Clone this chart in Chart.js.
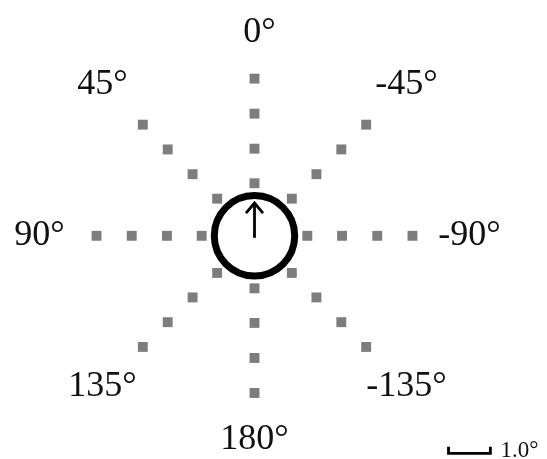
<!DOCTYPE html>
<html><head><meta charset="utf-8">
<script src="https://cdn.jsdelivr.net/npm/chart.js@4.4.1/dist/chart.umd.min.js"></script>
<style>html,body{margin:0;padding:0;background:#fff;overflow:hidden;} #wrap{width:547px;height:459px;position:relative;}</style>
</head><body><div id="wrap"><canvas id="c"></canvas></div>
<script>
// Data (degrees of visual angle)
const directions = [0, 45, 90, 135, 180, -135, -90, -45]; // 0 = up, positive = counter-clockwise
const directionLabels = ['0°', '45°', '90°', '135°', '180°', '-135°', '-90°', '-45°'];
const eccentricities = [1.26, 2.09, 2.93, 3.77];
const fixationRadius = 0.96;
const arrowLength = 0.81;
const scaleBarLength = 1.0;
const scaleBarLabel = '1.0°';

// layout constants
const PX_PER_DEG = 43, CX = 254, CY = 236, W = 547, H = 459;
const LABEL_R = 5.13, LABEL_R_VERT = 4.88;

const rad = d => d * Math.PI / 180;
const points = [];
directions.forEach(a => eccentricities.forEach(e => {
  points.push({x: -e * Math.sin(rad(a)), y: e * Math.cos(rad(a))});
}));

const overlay = {
  id: 'overlay',
  afterDatasetsDraw(chart) {
    const ctx = chart.ctx, xs = chart.scales.x, ys = chart.scales.y;
    const cx = xs.getPixelForValue(0), cy = ys.getPixelForValue(0);
    const unit = xs.getPixelForValue(1) - cx;
    ctx.save();
    // fixation circle
    ctx.strokeStyle = '#000';
    ctx.lineWidth = 7;
    ctx.beginPath();
    ctx.arc(cx, cy, fixationRadius * unit, 0, Math.PI * 2);
    ctx.stroke();
    // arrow
    const tipY = ys.getPixelForValue(arrowLength);
    ctx.lineWidth = 2.8;
    ctx.lineCap = 'butt';
    ctx.beginPath();
    ctx.moveTo(cx, cy + 2);
    ctx.lineTo(cx, tipY + 1);
    ctx.stroke();
    ctx.beginPath();
    ctx.moveTo(cx - 8.5, tipY + 11);
    ctx.lineTo(cx, tipY + 1);
    ctx.lineTo(cx + 8.5, tipY + 11);
    ctx.stroke();
    // direction labels
    ctx.fillStyle = '#111';
    ctx.font = '36px "Liberation Serif", "Times New Roman", serif';
    ctx.textAlign = 'center';
    ctx.textBaseline = 'middle';
    directions.forEach((a, i) => {
      const r = (a === 0 || a === 180) ? LABEL_R_VERT : LABEL_R;
      const px = xs.getPixelForValue(-r * Math.sin(rad(a)));
      const py = ys.getPixelForValue(r * Math.cos(rad(a)));
      ctx.fillText(directionLabels[i], px + (a === 0 ? 5 : 0), py);
    });
    // scale bar
    const bx = 448.5, by = 453.3;
    const blen = scaleBarLength * unit;
    ctx.lineWidth = 2.8;
    ctx.lineJoin = 'miter';
    ctx.beginPath();
    ctx.moveTo(bx, by - 6.5);
    ctx.lineTo(bx, by);
    ctx.lineTo(bx + blen, by);
    ctx.lineTo(bx + blen, by - 6.5);
    ctx.stroke();
    ctx.font = '23px "Liberation Serif", "Times New Roman", serif';
    ctx.textAlign = 'left';
    ctx.textBaseline = 'alphabetic';
    ctx.fillText(scaleBarLabel, bx + blen + 10, 456.7);
    ctx.restore();
  }
};

new Chart(document.getElementById('c'), {
  type: 'scatter',
  data: {
    datasets: [{
      data: points,
      pointStyle: 'rect',
      pointRadius: 7,
      pointBorderWidth: 0,
      borderWidth: 0,
      backgroundColor: '#7d7d7d',
      pointBackgroundColor: '#7d7d7d'
    }]
  },
  options: {
    responsive: true,
    maintainAspectRatio: false,
    animation: false,
    layout: {padding: 0},
    plugins: {legend: {display: false}, tooltip: {enabled: false}},
    scales: {
      x: {type: 'linear', display: false, min: -CX / PX_PER_DEG, max: (W - CX) / PX_PER_DEG},
      y: {type: 'linear', display: false, min: -(H - CY) / PX_PER_DEG, max: CY / PX_PER_DEG}
    }
  },
  plugins: [overlay]
});
</script>
</body></html>
